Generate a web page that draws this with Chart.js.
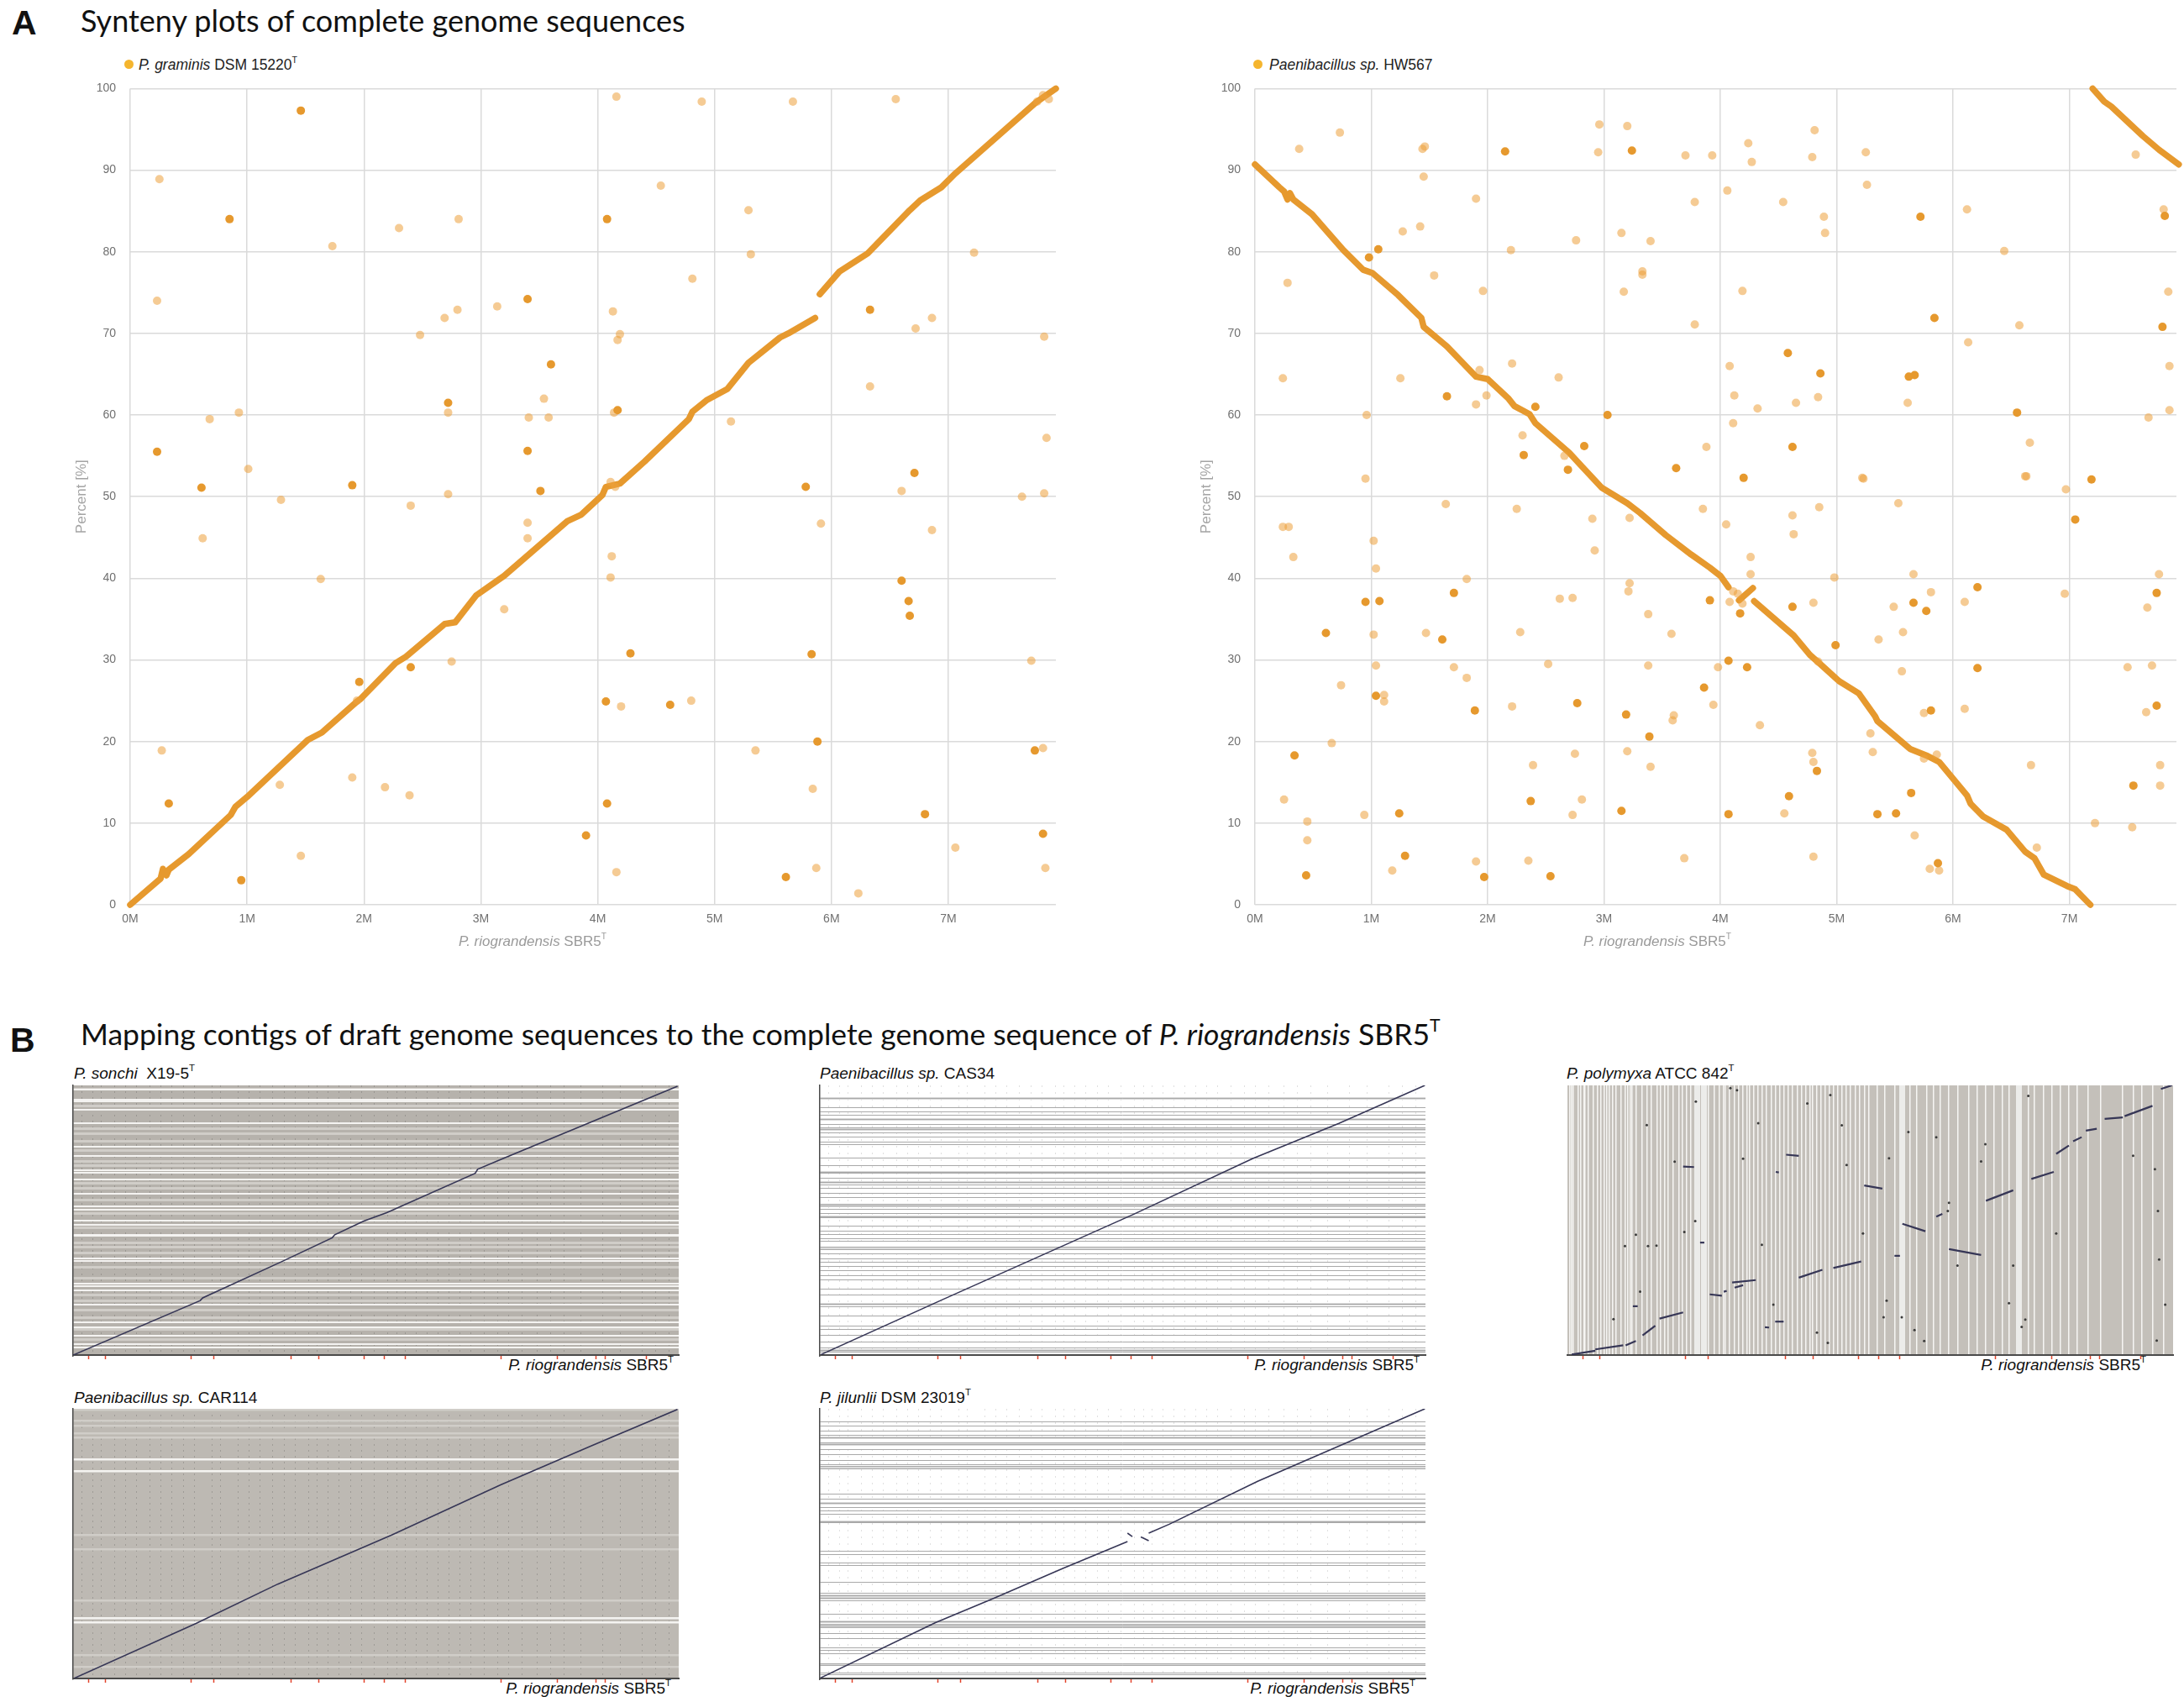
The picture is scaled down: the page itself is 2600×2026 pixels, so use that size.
<!DOCTYPE html>
<html>
<head>
<meta charset="utf-8">
<title>Synteny plots</title>
<script src="https://cdn.jsdelivr.net/npm/chart.js@4.4.1/dist/chart.umd.min.js"></script>
<style>
  html, body { margin: 0; padding: 0; background: #fff; }
  body { width: 2600px; height: 2026px; position: relative; overflow: hidden; font-family: "Liberation Sans", Arial, sans-serif; color: #111; }
  .t { position: absolute; white-space: nowrap; line-height: 1; }
  .head { font-family: Lato, "Open Sans", sans-serif; font-size: 36px; }
  .panel { font-weight: bold; font-size: 41px; }
  .leg { font-size: 17.5px; color: #222; }
  .dot { position: absolute; width: 11px; height: 11px; border-radius: 50%; background: #f5b52e; }
  .xt { font-size: 17px; color: #9a9a9a; transform: translateX(-50%); }
  .bt { font-size: 19px; }
  sup { font-size: 60%; vertical-align: 0.75em; line-height: 0; }
  canvas { position: absolute; }
</style>
</head>
<body>

<div class="t panel" style="left:14px; top:7px;">A</div>
<div class="t head" style="left:96px; top:6px;">Synteny plots of complete genome sequences</div>

<span class="dot" style="left:148px; top:71px;"></span>
<div class="t leg" style="left:165px; top:69px;"><i>P. graminis</i> DSM 15220<sup>T</sup></div>
<span class="dot" style="left:1492px; top:71px;"></span>
<div class="t leg" style="left:1511px; top:69px;"><i>Paenibacillus sp.</i> HW567</div>

<canvas id="synA1" width="1185" height="1040" style="left:80px; top:80px;"></canvas>
<canvas id="synA2" width="1180" height="1040" style="left:1419px; top:80px;"></canvas>

<div class="t xt" style="left:634px; top:1112px;"><i>P. riograndensis</i> SBR5<sup>T</sup></div>
<div class="t xt" style="left:1973px; top:1112px;"><i>P. riograndensis</i> SBR5<sup>T</sup></div>

<div class="t panel" style="left:12px; top:1218px;">B</div>
<div class="t head" style="left:96px; top:1213px; font-size:35.5px;">Mapping contigs of draft genome sequences to the complete genome sequence of <i>P. riograndensis</i> SBR5<sup>T</sup></div>

<div class="t bt" style="left:88px; top:1268px;"><i>P. sonchi</i>&nbsp; X19-5<sup>T</sup></div>
<div class="t bt" style="left:976px; top:1268px;"><i>Paenibacillus sp.</i> CAS34</div>
<div class="t bt" style="left:1865px; top:1268px;"><i>P. polymyxa</i> ATCC 842<sup>T</sup></div>
<div class="t bt" style="left:88px; top:1654px;"><i>Paenibacillus sp.</i> CAR114</div>
<div class="t bt" style="left:976px; top:1654px;"><i>P. jilunlii</i> DSM 23019<sup>T</sup></div>

<div class="t bt" style="right:1798px; top:1615px;"><i>P. riograndensis</i> SBR5<sup>T</sup></div>
<div class="t bt" style="right:910px; top:1615px;"><i>P. riograndensis</i> SBR5<sup>T</sup></div>
<div class="t bt" style="right:45px; top:1615px;"><i>P. riograndensis</i> SBR5<sup>T</sup></div>
<div class="t bt" style="right:1801px; top:2000px;"><i>P. riograndensis</i> SBR5<sup>T</sup></div>
<div class="t bt" style="right:915px; top:2000px;"><i>P. riograndensis</i> SBR5<sup>T</sup></div>

<canvas id="dotB1" width="729" height="335" style="left:83px; top:1288px;"></canvas>
<canvas id="dotB2" width="729" height="335" style="left:972px; top:1288px;"></canvas>
<canvas id="dotB3" width="729" height="335" style="left:1862px; top:1288px;"></canvas>
<canvas id="dotB4" width="729" height="335" style="left:83px; top:1673px;"></canvas>
<canvas id="dotB5" width="729" height="335" style="left:972px; top:1673px;"></canvas>

<script>
// ---- panel A: positions in Mb on P. riograndensis SBR5, y in percent of the query genome ----
var genomeMb = 7.92;
var xTicks = [0, 1, 2, 3, 4, 5, 6, 7];
var xTickLabels = ['0M', '1M', '2M', '3M', '4M', '5M', '6M', '7M'];
var yTicks = [0, 10, 20, 30, 40, 50, 60, 70, 80, 90, 100];
var yTickLabels = ['0', '10', '20', '30', '40', '50', '60', '70', '80', '90', '100'];

// P. graminis DSM 15220 - syntenic runs
var graminisRun1 = [[0, 0], [0.26, 3.2], [0.28, 4.4], [0.31, 3.6], [0.33, 4.3], [0.5, 6.2], [0.86, 11.0], [0.9, 12.0], [1.0, 13.2],
  [1.52, 20.2], [1.64, 21.1], [1.94, 24.9], [1.97, 25.2], [2.27, 29.6], [2.36, 30.4], [2.69, 34.4], [2.78, 34.6], [2.96, 37.9],
  [3.2, 40.3], [3.74, 47.0], [3.86, 47.8], [4.04, 50.2], [4.07, 51.2], [4.19, 51.6], [4.40, 54.3], [4.78, 59.5], [4.81, 60.4],
  [4.93, 61.8], [5.11, 63.2], [5.29, 66.4], [5.56, 69.5], [5.63, 70.0], [5.86, 71.9]];
var graminisRun2 = [[5.9, 74.8], [6.07, 77.6], [6.31, 79.8], [6.67, 85.1], [6.76, 86.3], [6.94, 87.9], [7.06, 89.6], [7.75, 98.3], [7.92, 100]];
var graminisSingle = [[0.25, 88.9], [0.23, 74.0], [0.68, 59.5], [0.93, 60.3], [1.01, 53.4], [1.73, 80.7], [2.30, 82.9], [2.81, 84.0],
  [2.48, 69.8], [2.69, 71.9], [2.80, 72.9], [3.14, 73.3], [2.72, 60.3], [3.41, 59.7], [3.58, 59.7], [3.54, 62.0], [4.16, 99.0],
  [4.89, 98.4], [5.67, 98.4], [6.55, 98.7], [4.54, 88.1], [5.29, 85.1], [5.31, 79.7], [4.81, 76.7], [4.13, 72.7], [4.19, 69.9],
  [4.17, 69.2], [4.14, 60.3], [5.14, 59.2], [6.33, 63.5], [6.72, 70.6], [6.86, 71.9], [7.22, 79.9], [7.82, 69.6], [7.84, 57.2],
  [7.82, 50.4], [7.81, 99.2], [7.86, 98.7], [7.76, 98.4], [2.72, 50.3], [6.60, 50.7], [7.63, 50.0], [0.62, 44.9], [1.29, 49.6],
  [1.63, 39.9], [2.40, 48.9], [3.40, 46.8], [3.40, 44.9], [3.20, 36.2], [4.12, 42.7], [4.11, 40.1], [5.91, 46.7], [6.86, 45.9],
  [2.75, 29.8], [0.27, 18.9], [1.28, 14.7], [1.90, 15.6], [2.18, 14.4], [2.39, 13.4], [1.46, 6.0], [4.20, 24.3], [4.80, 25.0],
  [5.35, 18.9], [5.84, 14.2], [5.87, 4.5], [6.23, 1.4], [7.06, 7.0], [7.71, 29.9], [7.81, 19.2], [7.83, 4.5], [4.16, 4.0],
  [1.94, 25.0], [4.11, 51.8], [4.15, 51.2]];
var graminisDouble = [[1.46, 97.3], [0.85, 84.0], [0.23, 55.5], [0.61, 51.1], [1.90, 51.4], [3.40, 74.2], [3.60, 66.2], [2.72, 61.5],
  [3.40, 55.6], [3.51, 50.7], [4.08, 84.0], [4.17, 60.6], [6.33, 72.9], [5.78, 51.2], [6.71, 52.9], [0.33, 12.4], [0.95, 3.0],
  [1.96, 27.3], [2.40, 29.1], [4.28, 30.8], [4.07, 24.9], [4.62, 24.5], [4.08, 12.4], [3.90, 8.5], [5.83, 30.7], [5.88, 20.0],
  [5.61, 3.4], [6.60, 39.7], [6.66, 37.2], [6.67, 35.4], [6.80, 11.1], [7.74, 18.9], [7.81, 8.7]];

// Paenibacillus sp. HW567 - inverted syntenic runs
var hw567Run1 = [[0, 90.7], [0.21, 87.9], [0.25, 87.4], [0.28, 86.4], [0.30, 87.2], [0.33, 86.4], [0.49, 84.6], [0.76, 80.2],
  [0.93, 77.8], [1.01, 77.4], [1.23, 74.7], [1.43, 71.9], [1.45, 70.8], [1.65, 68.4], [1.90, 64.7], [2.0, 64.4], [2.18, 62.0],
  [2.23, 61.1], [2.36, 60.1], [2.41, 59.0], [2.70, 55.4], [2.81, 53.7], [2.98, 51.1], [3.2, 49.2], [3.31, 48.0], [3.53, 45.3],
  [3.75, 42.9], [3.91, 41.3], [4.0, 40.3], [4.07, 38.9]];
var hw567Run2 = [[4.16, 37.3], [4.28, 38.8]];
var hw567Run3 = [[4.29, 37.2], [4.63, 33.0], [4.77, 30.6], [4.85, 29.6], [5.02, 27.4], [5.19, 25.9], [5.33, 23.1], [5.35, 22.5],
  [5.63, 19.1], [5.77, 18.3], [5.88, 17.5], [6.12, 13.4], [6.15, 12.4], [6.26, 10.8], [6.46, 9.2], [6.62, 6.5], [6.70, 5.7],
  [6.78, 3.7], [6.98, 2.3], [7.05, 1.9], [7.18, 0]];
var hw567Run4 = [[7.20, 100], [7.30, 98.4], [7.36, 97.8], [7.63, 94.2], [7.77, 92.5], [7.94, 90.7]];
var hw567Single = [[0.38, 92.6], [0.73, 94.6], [0.28, 76.2], [0.24, 64.5], [1.27, 82.5], [1.42, 83.1], [1.46, 92.9], [1.44, 92.6],
  [1.45, 89.2], [1.54, 77.1], [1.25, 64.5], [0.96, 60.0], [0.95, 52.2], [1.90, 86.5], [1.96, 75.2], [1.93, 65.5], [1.90, 61.3],
  [1.99, 62.4], [2.20, 80.2], [2.21, 66.3], [2.61, 64.6], [2.76, 81.4], [2.30, 57.5], [2.66, 55.0], [2.96, 95.6], [3.20, 95.4],
  [2.95, 92.2], [3.15, 82.3], [3.40, 81.3], [3.17, 75.1], [3.33, 77.6], [3.33, 77.2], [3.70, 91.8], [3.93, 91.8], [4.24, 93.3],
  [4.27, 91.0], [3.78, 86.1], [4.06, 87.5], [3.78, 71.1], [4.19, 75.2], [4.08, 66.0], [4.12, 62.4], [4.32, 60.8], [4.11, 59.0],
  [3.88, 56.1], [4.81, 94.9], [4.79, 91.6], [4.54, 86.1], [4.89, 84.3], [4.90, 82.3], [4.65, 61.5], [4.84, 62.2], [5.25, 92.2],
  [5.26, 88.2], [5.61, 61.5], [5.23, 52.2], [6.12, 85.2], [6.44, 80.1], [6.57, 71.0], [6.13, 68.9], [6.66, 56.6], [6.63, 52.5],
  [6.97, 50.9], [7.57, 91.9], [7.85, 75.1], [7.86, 66.0], [7.86, 60.6], [7.68, 59.7], [7.81, 85.2],
  [0.24, 46.3], [0.29, 46.3], [0.33, 42.6], [1.02, 44.6], [1.04, 41.2], [1.64, 49.1], [1.82, 39.9], [2.25, 48.5], [2.90, 47.3],
  [2.92, 43.4], [3.22, 47.4], [3.22, 39.4], [3.21, 38.4], [3.38, 35.6], [2.62, 37.5], [2.73, 37.6], [2.28, 33.4], [2.52, 29.5],
  [1.71, 29.1], [1.82, 27.8], [1.47, 33.3], [1.02, 33.1], [1.04, 29.3], [1.11, 25.7], [1.11, 24.9], [0.74, 26.9], [0.66, 19.8],
  [0.25, 12.9], [0.45, 10.2], [0.45, 7.9], [0.94, 11.0], [1.18, 4.2], [1.90, 5.3], [2.35, 5.4], [2.21, 24.3], [2.39, 17.1],
  [2.75, 18.5], [2.81, 12.9], [2.73, 11.0], [3.20, 18.8], [3.38, 29.3], [3.40, 16.9], [3.58, 33.2], [3.60, 23.2], [3.59, 22.6],
  [3.69, 5.7], [3.85, 48.5], [4.05, 46.6], [3.98, 29.1], [3.94, 24.5], [4.26, 42.6], [4.26, 40.5], [4.11, 38.4], [4.15, 38.1],
  [4.19, 36.9], [4.08, 37.1], [4.34, 22.0], [4.62, 47.7], [4.63, 45.4], [4.85, 48.7], [4.98, 40.1], [4.80, 37.0], [4.84, 29.8],
  [4.79, 18.6], [4.80, 17.5], [4.80, 5.9], [4.55, 11.2], [5.53, 49.2], [5.66, 40.5], [5.49, 36.5], [5.57, 33.4], [5.36, 32.5],
  [5.56, 28.6], [5.29, 21.0], [5.31, 18.7], [5.81, 38.3], [5.75, 23.5], [5.75, 17.9], [5.86, 18.4], [5.67, 8.5], [5.80, 4.4],
  [5.88, 4.2], [6.10, 37.1], [6.10, 24.0], [6.62, 52.5], [6.96, 38.1], [6.67, 17.1], [6.72, 7.0], [7.50, 29.1], [7.71, 29.3],
  [7.66, 23.6], [7.67, 36.4], [7.77, 40.5], [7.78, 17.1], [7.78, 14.6], [7.54, 9.5], [5.22, 52.3], [7.22, 10.0]];
var hw567Double = [[2.15, 92.3], [3.24, 92.4], [0.98, 79.3], [1.06, 80.3], [1.65, 62.3], [2.41, 61.0], [2.31, 55.1], [2.69, 53.3],
  [2.83, 56.2], [3.03, 60.0], [3.62, 53.5], [4.20, 52.3], [4.58, 67.6], [4.86, 65.1], [4.62, 56.1], [5.62, 64.7], [5.67, 64.9],
  [5.72, 84.3], [5.84, 71.9], [6.55, 60.3], [7.19, 52.1], [7.82, 84.4], [7.80, 70.8],
  [0.34, 18.3], [0.61, 33.3], [0.95, 37.1], [1.07, 37.2], [1.04, 25.6], [1.24, 11.2], [1.29, 6.0], [0.44, 3.6], [1.71, 38.2],
  [1.61, 32.5], [1.89, 23.8], [1.97, 3.4], [2.37, 12.7], [2.54, 3.5], [2.77, 24.7], [3.19, 23.3], [3.15, 11.5], [3.39, 20.6],
  [3.86, 26.6], [3.91, 37.3], [4.07, 29.9], [4.07, 11.1], [4.17, 35.7], [4.23, 29.1], [4.62, 36.5], [4.59, 13.3], [4.99, 31.8],
  [4.83, 16.4], [5.35, 11.1], [5.51, 11.2], [5.64, 13.7], [5.66, 37.0], [5.77, 36.0], [5.81, 23.8], [5.87, 5.1], [6.21, 38.9],
  [6.21, 29.0], [7.05, 47.2], [7.55, 14.6], [7.75, 38.2], [7.75, 24.4]];

// ---- panel B: fractions of reference (x) and draft assembly (y) length ----
var refMarks = [0.026, 0.053, 0.195, 0.233, 0.36, 0.405, 0.48, 0.514, 0.548, 0.706, 0.799, 0.863, 0.878, 0.946];
var hitColumns = [0.015, 0.033, 0.047, 0.069, 0.087, 0.105, 0.127, 0.145, 0.163, 0.182, 0.200, 0.229, 0.243, 0.272, 0.290,
  0.309, 0.330, 0.349, 0.367, 0.389, 0.403, 0.421, 0.439, 0.458, 0.476, 0.497, 0.519, 0.534, 0.548, 0.566, 0.585, 0.603,
  0.621, 0.639, 0.657, 0.679, 0.701, 0.719, 0.741, 0.766, 0.788, 0.810, 0.839, 0.875, 0.904, 0.940, 0.962, 0.984];

var sonchiGaps = [0.983, 0.948, 0.940, 0.911, 0.859, 0.772, 0.737, 0.685, 0.675, 0.651, 0.597, 0.550, 0.540, 0.499, 0.483,
  0.447, 0.442, 0.358, 0.348, 0.265, 0.255, 0.239, 0.187, 0.120, 0.104, 0.073, 0.041, 0.028];
var sonchiPale = [0.986, 0.924, 0.841, 0.820, 0.794, 0.758, 0.717, 0.701, 0.638, 0.618, 0.576, 0.524, 0.472, 0.415, 0.400,
  0.379, 0.327, 0.286, 0.223, 0.202, 0.166, 0.140, 0.094, 0.057];
var sonchiPath = [[0, 0], [0.210, 0.202], [0.214, 0.212], [0.345, 0.347], [0.428, 0.435], [0.432, 0.446], [0.480, 0.497],
  [0.518, 0.528], [0.664, 0.674], [0.668, 0.689], [0.706, 0.725], [0.998, 0.997]];

var cas34Contigs = [0.951, 0.919, 0.901, 0.888, 0.873, 0.856, 0.844, 0.836, 0.823, 0.807, 0.790, 0.779, 0.729, 0.704, 0.679,
  0.673, 0.656, 0.641, 0.630, 0.617, 0.599, 0.583, 0.560, 0.552, 0.542, 0.526, 0.513, 0.508, 0.479, 0.461, 0.448, 0.432,
  0.421, 0.401, 0.391, 0.375, 0.358, 0.344, 0.328, 0.313, 0.294, 0.278, 0.245, 0.224, 0.188, 0.179, 0.144, 0.109, 0.094,
  0.073, 0.049, 0.026, 0.017, 0.010];
var cas34Bands = [0.951, 0.873, 0.836, 0.679, 0.641, 0.552, 0.513, 0.396, 0.188, 0.017];
var cas34Path = [[0.002, 0.002], [0.203, 0.206], [0.519, 0.523], [0.715, 0.729], [0.857, 0.859], [0.999, 1.0]];

var polymyxaGaps = [0.004, 0.007, 0.010, 0.017, 0.022, 0.027, 0.029, 0.035, 0.043, 0.049, 0.055, 0.060, 0.065, 0.069, 0.074,
  0.080, 0.088, 0.095, 0.099, 0.103, 0.107, 0.113, 0.123, 0.132, 0.139, 0.148, 0.153, 0.160, 0.166, 0.175, 0.184, 0.190,
  0.196, 0.203, 0.233, 0.243, 0.250, 0.257, 0.261, 0.268, 0.275, 0.282, 0.289, 0.296, 0.301, 0.307, 0.314, 0.321, 0.329,
  0.337, 0.344, 0.351, 0.358, 0.365, 0.372, 0.379, 0.386, 0.393, 0.400, 0.405, 0.411, 0.418, 0.425, 0.432, 0.439, 0.446,
  0.453, 0.460, 0.467, 0.476, 0.483, 0.490, 0.497, 0.511, 0.524, 0.540, 0.566, 0.577, 0.593, 0.605, 0.616, 0.630, 0.644,
  0.662, 0.676, 0.690, 0.704, 0.718, 0.729, 0.761, 0.771, 0.786, 0.800, 0.814, 0.828, 0.842, 0.860, 0.881, 0.917, 0.934,
  0.948, 0.966, 0.984];
var polymyxaWide = [0.214, 0.226, 0.553, 0.745];
var polymyxaPaths = [
  [[0.007, 0.002], [0.046, 0.016]], [[0.046, 0.021], [0.092, 0.036]], [[0.096, 0.036], [0.113, 0.052]],
  [[0.124, 0.073], [0.145, 0.109]], [[0.152, 0.135], [0.191, 0.158]], [[0.108, 0.181], [0.116, 0.181]],
  [[0.235, 0.225], [0.255, 0.220]], [[0.258, 0.235], [0.263, 0.238]], [[0.272, 0.269], [0.311, 0.278]],
  [[0.276, 0.250], [0.290, 0.259]], [[0.382, 0.287], [0.421, 0.316]], [[0.439, 0.323], [0.485, 0.347]],
  [[0.326, 0.103], [0.333, 0.102]], [[0.343, 0.124], [0.357, 0.124]], [[0.540, 0.368], [0.549, 0.368]],
  [[0.630, 0.393], [0.683, 0.371]], [[0.553, 0.487], [0.591, 0.459]], [[0.609, 0.513], [0.619, 0.523]],
  [[0.490, 0.629], [0.520, 0.617]], [[0.691, 0.572], [0.736, 0.611]], [[0.766, 0.653], [0.803, 0.679]],
  [[0.807, 0.746], [0.828, 0.777]], [[0.835, 0.793], [0.849, 0.808]], [[0.856, 0.832], [0.874, 0.839]],
  [[0.887, 0.876], [0.917, 0.881]], [[0.920, 0.886], [0.966, 0.924]], [[0.980, 0.987], [0.998, 1.0]],
  [[0.191, 0.699], [0.209, 0.697]], [[0.361, 0.743], [0.382, 0.739]], [[0.344, 0.679], [0.349, 0.677]],
  [[0.219, 0.417], [0.226, 0.417]]];
var polymyxaHits = [[0.131, 0.853], [0.177, 0.717], [0.212, 0.940], [0.269, 0.990], [0.280, 0.982], [0.315, 0.860],
  [0.290, 0.728], [0.396, 0.933], [0.434, 0.964], [0.453, 0.852], [0.461, 0.705], [0.531, 0.730], [0.563, 0.827],
  [0.609, 0.808], [0.690, 0.782], [0.683, 0.718], [0.761, 0.961], [0.934, 0.739], [0.970, 0.689], [0.975, 0.534],
  [0.977, 0.354], [0.987, 0.187], [0.973, 0.054], [0.807, 0.451], [0.736, 0.332], [0.729, 0.192], [0.756, 0.132],
  [0.750, 0.104], [0.589, 0.052], [0.527, 0.202], [0.522, 0.140], [0.552, 0.140], [0.573, 0.093], [0.430, 0.045],
  [0.412, 0.083], [0.340, 0.187], [0.211, 0.497], [0.193, 0.456], [0.095, 0.404], [0.133, 0.404], [0.147, 0.406],
  [0.113, 0.446], [0.076, 0.133], [0.120, 0.235], [0.321, 0.409], [0.488, 0.451], [0.644, 0.332], [0.630, 0.565],
  [0.628, 0.534]];

var car114Gaps = [0.811, 0.768, 0.224, 0.207];
var car114Pale = [0.995, 0.956, 0.936, 0.910, 0.894, 0.532, 0.480, 0.288, 0.086, 0.044];
var car114Path = [[0.002, 0.001], [0.203, 0.204], [0.338, 0.350], [0.526, 0.532], [0.706, 0.718], [0.856, 0.863], [0.998, 0.998]];

var jilunliiContigs = [0.953, 0.935, 0.917, 0.901, 0.894, 0.874, 0.867, 0.850, 0.829, 0.808, 0.793, 0.788, 0.777, 0.684,
  0.665, 0.650, 0.634, 0.622, 0.608, 0.580, 0.577, 0.472, 0.459, 0.428, 0.418, 0.358, 0.316, 0.308, 0.297, 0.287, 0.238,
  0.210, 0.202, 0.194, 0.187, 0.166, 0.148, 0.114, 0.104, 0.093, 0.055, 0.047, 0.021, 0.013];
var jilunliiBands = [0.894, 0.867, 0.782, 0.650, 0.580, 0.308, 0.297, 0.210, 0.194, 0.051];
var jilunliiPaths = [
  [[0.001, 0.002], [0.191, 0.207], [0.285, 0.295], [0.402, 0.409], [0.508, 0.508]],
  [[0.508, 0.539], [0.516, 0.526]],
  [[0.530, 0.525], [0.543, 0.511]],
  [[0.543, 0.539], [0.577, 0.572], [0.723, 0.731], [0.999, 1.0]]];

// ---------------------------------------------------------------
var ORANGE = '#e6992e';
var ORANGE_PALE = 'rgba(236, 160, 60, 0.55)';
var GRID = '#dadada';
var TICK_FONT = { family: '"Liberation Sans", Arial, sans-serif', size: 14 };

function toXY(pairs) {
  return pairs.map(function (p) { return { x: p[0], y: p[1] }; });
}

// fills the plot area of the dot plots
Chart.register({
  id: 'plotBg',
  beforeDraw: function (chart, args, opts) {
    if (!opts.color) return;
    var a = chart.chartArea;
    chart.ctx.save();
    chart.ctx.fillStyle = opts.color;
    chart.ctx.fillRect(a.left, a.top, a.right - a.left, a.bottom - a.top);
    chart.ctx.restore();
  }
});

function syntenyChart(id, runs, single, double) {
  var datasets = [
    { data: toXY(double), backgroundColor: ORANGE, pointRadius: 5, borderWidth: 0, clip: false },
    { data: toXY(single), backgroundColor: ORANGE_PALE, pointRadius: 5, borderWidth: 0, clip: false }
  ];
  runs.forEach(function (run) {
    datasets.push({ data: toXY(run), showLine: true, borderColor: ORANGE, borderWidth: 7.5, pointRadius: 0,
      borderCapStyle: 'round', borderJoinStyle: 'round', clip: false });
  });

  return new Chart(document.getElementById(id), {
    type: 'scatter',
    data: { datasets: datasets },
    options: {
      responsive: false,
      animation: false,
      events: [],
      // y tick padding (17) + half a label already gives ~25px on top
      layout: { padding: { left: 0, top: 0, right: 8, bottom: 13 } },
      plugins: { legend: { display: false }, tooltip: { enabled: false } },
      scales: {
        x: {
          type: 'linear', min: 0, max: genomeMb,
          afterBuildTicks: function (s) { s.ticks = xTicks.map(function (v) { return { value: v }; }); },
          afterFit: function (s) { s.height = 30; },
          ticks: { color: '#707070', font: TICK_FONT, padding: 9, maxRotation: 0,
            callback: function (v, i) { return xTickLabels[i]; } },
          grid: { color: GRID, lineWidth: 1.5, drawTicks: false },
          border: { display: false }
        },
        y: {
          min: 0, max: 100,
          afterBuildTicks: function (s) { s.ticks = yTicks.map(function (v) { return { value: v }; }); },
          afterFit: function (s) { s.width = 75; },
          ticks: { color: '#707070', font: TICK_FONT, padding: 17,
            callback: function (v, i) { return yTickLabels[i]; } },
          grid: { color: GRID, lineWidth: 1.5, drawTicks: false },
          border: { display: false },
          title: { display: true, text: 'Percent [%]', color: '#a4a4a4',
            font: { family: '"Liberation Sans", Arial, sans-serif', size: 17 }, padding: { top: 7 } }
        }
      }
    }
  });
}

// rows/cols: lists of { pos: [...], color, width }
function dotPlot(id, cfg) {
  var rowPos = [], rowColor = [], rowWidth = [];
  (cfg.rows || []).forEach(function (r) {
    r.pos.forEach(function (p) { rowPos.push(p); rowColor.push(r.color); rowWidth.push(r.width); });
  });
  var colPos = [], colColor = [], colWidth = [];
  (cfg.cols || []).forEach(function (c) {
    c.pos.forEach(function (p) { colPos.push(p); colColor.push(c.color); colWidth.push(c.width); });
  });

  var datasets = [];
  if (cfg.hits) {
    datasets.push({ data: toXY(cfg.hits), backgroundColor: '#3a3a3a', pointRadius: 1.5, borderWidth: 0 });
  }
  cfg.paths.forEach(function (p) {
    datasets.push({ data: toXY(p), showLine: true, borderColor: '#363656', borderWidth: cfg.pathWidth || 1.6, pointRadius: 0 });
  });

  return new Chart(document.getElementById(id), {
    type: 'scatter',
    data: { datasets: datasets },
    options: {
      responsive: false,
      animation: false,
      events: [],
      layout: { padding: 4 },
      plugins: { legend: { display: false }, tooltip: { enabled: false }, plotBg: { color: cfg.bg } },
      scales: {
        x: {
          type: 'linear', min: 0, max: 1,
          afterBuildTicks: function (s) { s.ticks = colPos.map(function (v) { return { value: v }; }); },
          afterFit: function (s) { s.height = 0; },
          ticks: { display: false },
          grid: { drawTicks: false,
            color: function (c) { return colColor[c.index]; },
            lineWidth: function (c) { return colWidth[c.index]; } },
          border: { display: false, dash: cfg.colDash || [] }
        },
        xr: {
          type: 'linear', position: 'bottom', min: 0, max: 1,
          afterBuildTicks: function (s) { s.ticks = refMarks.map(function (v) { return { value: v }; }); },
          afterFit: function (s) { s.height = 6; },
          ticks: { display: false },
          grid: { drawOnChartArea: false, drawTicks: true, tickLength: 5, tickWidth: 1.5, tickColor: '#e0442c' },
          border: { display: true, color: '#4a4a4a', width: 2 }
        },
        y: {
          min: 0, max: 1,
          afterBuildTicks: function (s) { s.ticks = rowPos.map(function (v) { return { value: v }; }); },
          afterFit: function (s) { s.width = 0; },
          ticks: { display: false },
          grid: { drawTicks: false,
            color: function (c) { return rowColor[c.index]; },
            lineWidth: function (c) { return rowWidth[c.index]; } },
          border: { display: true, color: '#4a4a4a', width: 1.5 }
        }
      }
    }
  });
}

syntenyChart('synA1', [graminisRun1, graminisRun2], graminisSingle, graminisDouble);
syntenyChart('synA2', [hw567Run1, hw567Run2, hw567Run3, hw567Run4], hw567Single, hw567Double);

var dashCol = { pos: hitColumns, color: 'rgba(50, 50, 50, 0.22)', width: 1 };

dotPlot('dotB1', {
  bg: '#b6b2ac',
  rows: [{ pos: sonchiPale, color: '#d0cdc8', width: 3 }, { pos: sonchiGaps, color: '#f4f3f1', width: 2 }],
  cols: [dashCol], colDash: [2, 5],
  paths: [sonchiPath]
});
dotPlot('dotB2', {
  bg: '#ffffff',
  rows: [{ pos: cas34Bands, color: '#dadada', width: 3 }, { pos: cas34Contigs, color: '#a9a9a9', width: 1 }],
  cols: [{ pos: hitColumns, color: 'rgba(60, 60, 60, 0.16)', width: 1 }], colDash: [2, 6],
  paths: [cas34Path]
});
dotPlot('dotB3', {
  bg: '#c4c0ba',
  cols: [{ pos: polymyxaWide, color: '#ececea', width: 7 }, { pos: polymyxaGaps, color: '#f6f5f3', width: 1.5 }],
  paths: polymyxaPaths,
  pathWidth: 2.2,
  hits: polymyxaHits
});
dotPlot('dotB4', {
  bg: '#bdb9b3',
  rows: [{ pos: car114Pale, color: '#d0cdc8', width: 2.5 }, { pos: car114Gaps, color: '#f4f3f1', width: 2.5 }],
  cols: [dashCol], colDash: [2, 5],
  paths: [car114Path]
});
dotPlot('dotB5', {
  bg: '#ffffff',
  rows: [{ pos: jilunliiBands, color: '#dadada', width: 3 }, { pos: jilunliiContigs, color: '#a9a9a9', width: 1 }],
  cols: [{ pos: hitColumns, color: 'rgba(60, 60, 60, 0.16)', width: 1 }], colDash: [2, 6],
  paths: jilunliiPaths
});
</script>
</body>
</html>
